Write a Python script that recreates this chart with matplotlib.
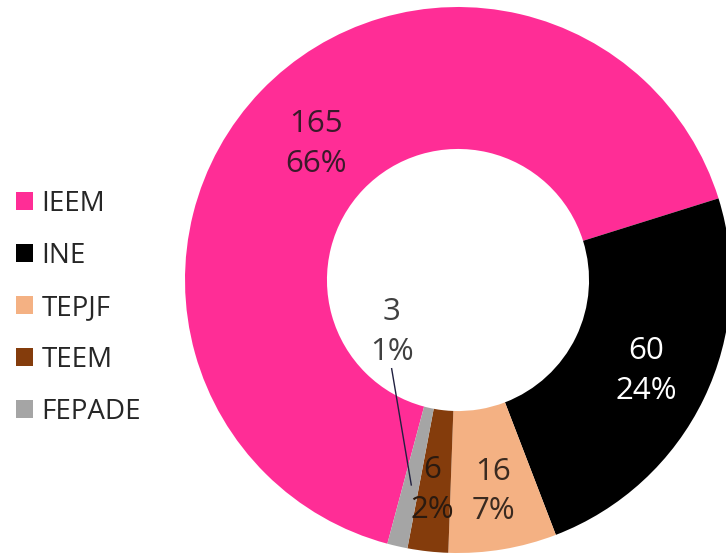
import matplotlib
matplotlib.use("Agg")
import matplotlib.pyplot as plt
import numpy as np

names = ["IEEM", "INE", "TEPJF", "TEEM", "FEPADE"]
values = [165, 60, 16, 6, 3]
pct_labels = ["66%", "24%", "7%", "2%", "1%"]
colors = ["#FF2D96", "#000000", "#F4B183", "#843C0C", "#A5A5A5"]
label_colors = ["#3a1a2a", "#ffffff", "#3a2a20", "#2a1a10", "#404040"]

W, H = 726, 559
fig = plt.figure(figsize=(W / 100, H / 100), dpi=100)
cx, cy, R = 458, 280, 273
ax = fig.add_axes([(cx - R) / W, (H - cy - R) / H, 2 * R / W, 2 * R / H])

font = "Open Sans"
hole = 0.48
wedges, _ = ax.pie(values, colors=colors, startangle=-105, counterclock=False,
                   radius=1, wedgeprops=dict(width=1 - hole, linewidth=0),
                   normalize=True)
ax.set_xlim(-1, 1)
ax.set_ylim(-1, 1)
ax.set_aspect("equal")
ax.axis("off")

lab_rs = [0.72, 0.765, 0.785, 0.775, 0.77]
fs = 22.5
ls = 1.42
for i, w in enumerate(wedges):
    mid = np.deg2rad((w.theta1 + w.theta2) / 2)
    x, y = lab_rs[i] * np.cos(mid), lab_rs[i] * np.sin(mid)
    txt = f"{values[i]}\n{pct_labels[i]}"
    if names[i] == "FEPADE":
        tx, ty = -0.243, -0.19
        ax.text(tx, ty, txt, ha="center", va="center", fontsize=fs, family=font,
                color=label_colors[i], linespacing=ls)
        ax.plot([tx, x], [ty - 0.135, y], color="#202040", lw=1.0)
        continue
    if names[i] == "TEEM":
        x -= 0.008
    ax.text(x, y, txt, ha="center", va="center", fontsize=fs, family=font,
            color=label_colors[i], linespacing=ls)

leg = fig.legend(wedges, names, loc="upper left",
                 bbox_to_anchor=(16 / W, 1 - 190 / H), frameon=False,
                 prop=dict(family=font, size=20), handlelength=0.62, handleheight=0.62,
                 handletextpad=0.3, labelspacing=0.86, borderpad=0, borderaxespad=0)
for t in leg.get_texts():
    t.set_color("#262626")

fig.savefig("out.png", dpi=100)
